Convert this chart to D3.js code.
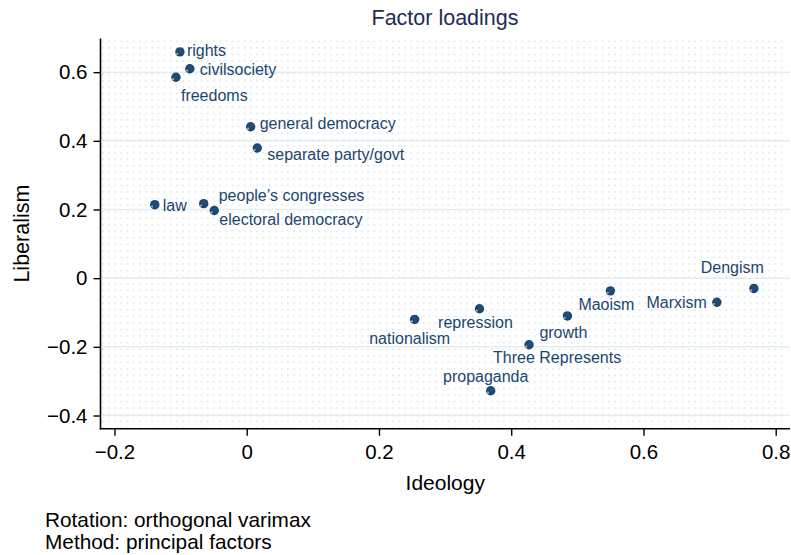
<!DOCTYPE html>
<html>
<head>
<meta charset="utf-8">
<script src="https://cdn.jsdelivr.net/npm/d3@7/dist/d3.min.js"></script>
<style>
  html, body { margin: 0; padding: 0; background: #ffffff; }
  svg { display: block; font-family: "Liberation Sans", Arial, Helvetica, sans-serif; }
</style>
</head>
<body>
<svg id="chart" width="791" height="555"></svg>
<script>
// ---- data ----
const categories = ["rights", "civilsociety", "freedoms", "general democracy", "separate party/govt",
  "law", "people’s congresses", "electoral democracy", "nationalism", "repression", "growth",
  "Three Represents", "propaganda", "Maoism", "Marxism", "Dengism"];
const ideology = [-0.101, -0.086, -0.107, 0.006, 0.016, -0.139, -0.065, -0.049, 0.254, 0.352, 0.485,
  0.427, 0.369, 0.550, 0.711, 0.767];
const liberalism = [0.659, 0.610, 0.585, 0.441, 0.379, 0.214, 0.217, 0.197, -0.120, -0.089, -0.110,
  -0.194, -0.328, -0.037, -0.070, -0.030];
const xTicks = [-0.2, 0, 0.2, 0.4, 0.6, 0.8];
const xTickLabels = ["\u22120.2", "0", "0.2", "0.4", "0.6", "0.8"];
const yTicks = [-0.4, -0.2, 0, 0.2, 0.4, 0.6];
const yTickLabels = ["\u22120.4", "\u22120.2", "0", "0.2", "0.4", "0.6"];
const titleText = "Factor loadings";
const xTitle = "Ideology";
const yTitle = "Liberalism";
const notes = ["Rotation: orthogonal varimax", "Method: principal factors"];

// ---- layout (label placement relative to marker) ----
const labelLayout = {
  "rights": ["start", 7, -2],
  "civilsociety": ["start", 10, 1],
  "freedoms": ["start", 5, 18],
  "general democracy": ["start", 9, -4],
  "separate party/govt": ["start", 10, 6],
  "law": ["start", 8, 1],
  "people’s congresses": ["start", 15, -8],
  "electoral democracy": ["start", 5, 9],
  "nationalism": ["middle", -5, 19],
  "repression": ["middle", -4, 14],
  "growth": ["middle", -4, 16],
  "Three Represents": ["start", -36, 12],
  "propaganda": ["middle", -5, -15],
  "Maoism": ["middle", -4, 13],
  "Marxism": ["end", -10, 0],
  "Dengism": ["end", 10, -21]
};

const svg = d3.select("#chart");
const L = 100.5, R = 790, T = 38.5, B = 428.7;
const navy = "#1a476f";

const x = d3.scaleLinear().domain([-0.2211, 0.8216]).range([L, R]);
const y = d3.scaleLinear().domain([-0.4384, 0.698]).range([B, T]);

// background dot pattern
const defs = svg.append("defs");
const pat = defs.append("pattern").attr("id", "dots")
  .attr("patternUnits", "userSpaceOnUse")
  .attr("x", L + 1.5).attr("y", T + 2)
  .attr("width", 6.17).attr("height", 6.55);
pat.append("rect").attr("width", 1.6).attr("height", 1.6).attr("fill", "#dce8e8");

const grad = defs.append("radialGradient").attr("id", "ball")
  .attr("cx", "55%").attr("cy", "40%").attr("r", "60%")
  .attr("fx", "60%").attr("fy", "35%");
grad.append("stop").attr("offset", "0%").attr("stop-color", "#234f78");
grad.append("stop").attr("offset", "80%").attr("stop-color", navy);
grad.append("stop").attr("offset", "100%").attr("stop-color", "#16405f");

svg.append("rect").attr("x", L + 1).attr("y", T).attr("width", R - L - 5).attr("height", B - T - 1)
  .attr("fill", "url(#dots)");

// major gridlines
svg.append("g").selectAll("line").data(yTicks).join("line")
  .attr("x1", L + 1).attr("x2", R)
  .attr("y1", d => y(d)).attr("y2", d => y(d))
  .attr("stroke", "#e3eded").attr("stroke-width", 1.5);

// axes
const yAxis = d3.axisLeft(y).tickValues(yTicks).tickFormat((d, i) => yTickLabels[i])
  .tickSize(7).tickSizeOuter(0).tickPadding(6);
const gy = svg.append("g").attr("transform", `translate(${L},0)`).call(yAxis);
const xAxis = d3.axisBottom(x).tickValues(xTicks).tickFormat((d, i) => xTickLabels[i])
  .tickSize(7).tickSizeOuter(0).tickPadding(9);
const gx = svg.append("g").attr("transform", `translate(0,${B})`).call(xAxis);

[gx, gy].forEach(g => {
  g.select(".domain").attr("stroke", "#000").attr("stroke-width", 1.6);
  g.selectAll(".tick line").attr("stroke", "#000").attr("stroke-width", 1.4);
  g.selectAll(".tick text").attr("fill", "#000")
    .style("font-family", "'Liberation Sans', Arial, sans-serif").style("font-size", "20.5px");
});
gx.select(".domain").attr("d", `M${L - 0.8},0H${R}`);
gy.select(".domain").attr("d", `M0,${T}V${B + 0.8}`);

// points
const pts = categories.map((c, i) => ({ name: c, xv: ideology[i], yv: liberalism[i] }));
const gp = svg.append("g");
gp.selectAll("circle.m").data(pts).join("circle").attr("class", "m")
  .attr("cx", d => x(d.xv)).attr("cy", d => y(d.yv)).attr("r", 4.7)
  .attr("fill", "url(#ball)");
gp.selectAll("circle.h").data(pts).join("circle").attr("class", "h")
  .attr("cx", d => x(d.xv) - 2.7).attr("cy", d => y(d.yv) + 1.9).attr("r", 1.1)
  .attr("fill", "#b8c8d8").attr("opacity", 0.8);

// labels
svg.append("g").selectAll("text").data(pts).join("text")
  .attr("x", d => x(d.xv) + labelLayout[d.name][1])
  .attr("y", d => y(d.yv) + labelLayout[d.name][2])
  .attr("dy", "0.36em")
  .attr("text-anchor", d => labelLayout[d.name][0])
  .attr("fill", navy).style("font-size", "16px")
  .text(d => d.name);

// titles
svg.append("text").attr("x", 445).attr("y", 25).attr("text-anchor", "middle")
  .attr("fill", "#1e2d53").style("font-size", "21.5px").text(titleText);
svg.append("text").attr("x", (L + R) / 2).attr("y", 490).attr("text-anchor", "middle")
  .attr("fill", "#000").style("font-size", "21px").text(xTitle);
svg.append("text").attr("transform", `translate(29,${(T + B) / 2}) rotate(-90)`)
  .attr("text-anchor", "middle").attr("fill", "#000").style("font-size", "21.5px").text(yTitle);
svg.append("g").selectAll("text").data(notes).join("text")
  .attr("x", 45).attr("y", (d, i) => 527 + i * 22)
  .attr("fill", "#000").style("font-size", "20.8px").text(d => d);
</script>
</body>
</html>
